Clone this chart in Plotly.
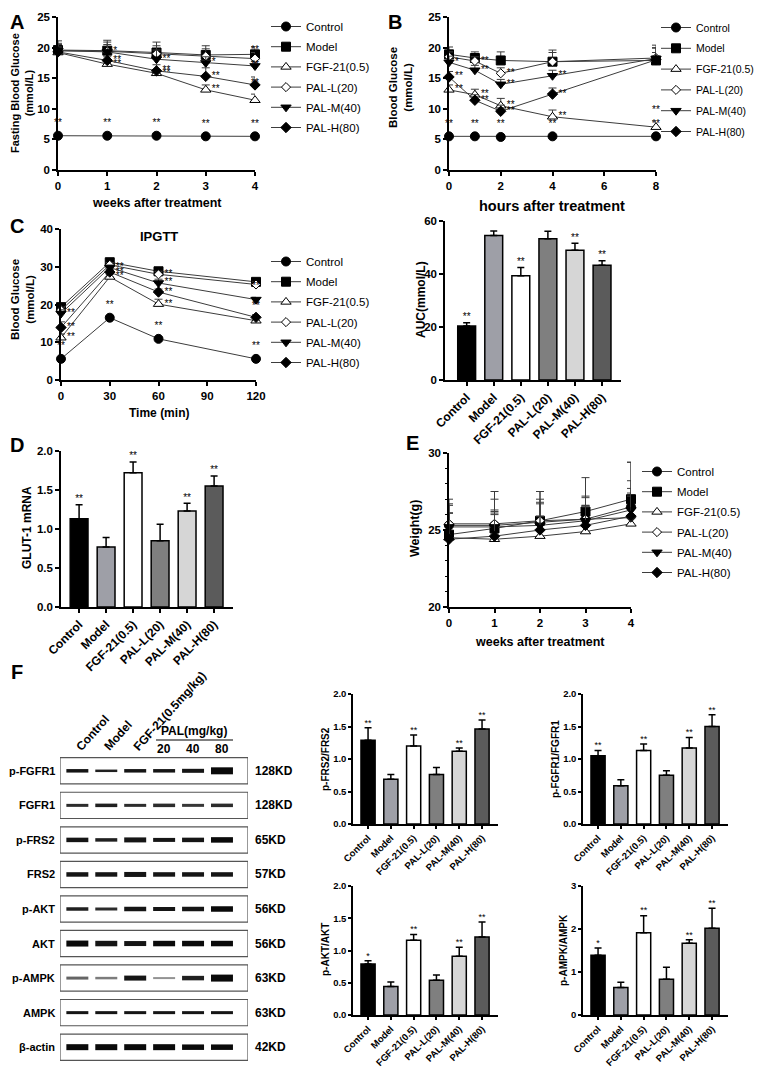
import plotly.graph_objects as go

W, H = 768, 1069
OFF = 8  # the page puts the figure 8 px in from the top-left corner
FW, FH = W - OFF, H - OFF
FONT = "Arial, Liberation Sans, sans-serif"

groups = ["Control", "Model", "FGF-21(0.5)", "PAL-L(20)", "PAL-M(40)", "PAL-H(80)"]

# A: fasting blood glucose over weeks
weeks = [0, 1, 2, 3, 4]
fbg_mean = [
    [5.6, 5.6, 5.6, 5.5, 5.5],
    [19.6, 19.5, 19.2, 18.8, 18.9],
    [19.2, 17.3, 15.8, 13.1, 11.4],
    [19.5, 19.4, 19.0, 18.6, 18.2],
    [19.5, 19.3, 18.1, 17.5, 17.0],
    [19.3, 17.9, 16.2, 15.3, 13.9],
]
fbg_err = [
    [0.2, 0.2, 0.2, 0.2, 0.2],
    [1.5, 1.7, 1.7, 1.5, 1.2],
    [1.3, 0.5, 0.6, 0.8, 1.0],
    [1.2, 1.5, 1.3, 1.2, 1.0],
    [1.0, 1.2, 1.5, 1.0, 0.8],
    [0.8, 0.6, 1.0, 1.4, 1.3],
]
fbg_sig = [
    ["**", "**", "**", "**", "**"],
    ["", "", "", "", ""],
    ["", "**", "**", "**", "**"],
    ["", "", "", "", ""],
    ["", "*", "**", "*", "**"],
    ["", "**", "**", "**", "**"],
]

# B: blood glucose over hours
hours = [0, 1, 2, 4, 8]
bg_mean = [
    [5.5, 5.5, 5.4, 5.5, 5.5],
    [18.9, 18.3, 17.9, 17.7, 17.9],
    [13.1, 12.3, 10.5, 8.7, 7.0],
    [18.5, 17.8, 15.8, 17.7, 18.3],
    [17.6, 16.3, 14.0, 15.4, 18.2],
    [15.2, 11.4, 9.6, 12.4, 18.0],
]
bg_err = [
    [0.2, 0.2, 0.2, 0.2, 0.2],
    [1.2, 1.0, 1.4, 1.9, 2.5],
    [0.8, 0.9, 1.2, 1.1, 1.0],
    [0.8, 0.7, 0.9, 1.5, 1.6],
    [1.0, 0.8, 0.8, 0.9, 1.8],
    [0.9, 0.9, 1.0, 1.0, 1.2],
]
bg_sig = [
    ["**", "**", "**", "**", "**"],
    ["", "", "", "", ""],
    ["**", "**", "**", "**", "**"],
    ["", "**", "**", "", ""],
    ["*", "**", "**", "**", ""],
    ["**", "**", "**", "**", ""],
]

# C: IPGTT
minutes = [0, 30, 60, 120]
ipgtt_mean = [
    [5.6, 16.5, 10.9, 5.6],
    [19.3, 31.2, 28.8, 26.0],
    [11.2, 27.3, 20.1, 15.7],
    [18.5, 30.5, 28.0, 25.3],
    [17.6, 29.8, 25.7, 21.3],
    [13.9, 28.6, 23.3, 16.6],
]
ipgtt_err = [
    [0.3, 0.4, 0.4, 0.3],
    [0.8, 0.6, 0.8, 0.7],
    [1.0, 0.7, 1.3, 0.8],
    [0.8, 0.6, 0.8, 0.7],
    [1.0, 0.6, 1.0, 0.6],
    [1.5, 0.7, 0.8, 0.7],
]
ipgtt_sig = [
    ["**", "**", "**", "**"],
    ["", "", "", ""],
    ["**", "**", "**", "**"],
    ["", "", "**", ""],
    ["**", "**", "**", "**"],
    ["**", "**", "**", "**"],
]

# AUC
auc_mean = [20.4, 54.5, 39.3, 53.3, 49.0, 43.3]
auc_err = [1.2, 1.7, 3.2, 2.8, 2.6, 1.7]
auc_sig = ["**", "", "**", "", "**", "**"]

# D: GLUT-1 mRNA
glut_mean = [1.13, 0.77, 1.72, 0.85, 1.23, 1.55]
glut_err = [0.18, 0.12, 0.14, 0.21, 0.10, 0.13]
glut_sig = ["**", "", "**", "", "**", "**"]

# E: body weight
weight_mean = [
    [25.3, 25.3, 25.5, 25.7, 26.5],
    [24.7, 25.1, 25.6, 26.2, 27.0],
    [24.5, 24.4, 24.6, 24.9, 25.4],
    [25.4, 25.4, 25.6, 25.7, 25.8],
    [25.2, 25.2, 25.3, 25.6, 26.3],
    [24.4, 24.6, 25.0, 25.3, 25.9],
]
weight_err = [
    [1.7, 2.2, 2.0, 2.7, 2.9],
    [1.9, 1.9, 1.9, 1.0, 2.4],
    [1.6, 1.6, 1.3, 1.7, 1.8],
    [0.7, 0.9, 1.2, 1.4, 2.4],
    [1.5, 1.0, 1.7, 0.9, 1.4],
    [1.7, 1.5, 1.7, 1.3, 1.5],
]

# F: western blot quantification
pfrs2_mean = [1.29, 0.69, 1.20, 0.76, 1.12, 1.46]
pfrs2_err = [0.19, 0.07, 0.17, 0.11, 0.05, 0.14]
pfgfr1_mean = [1.05, 0.59, 1.13, 0.75, 1.17, 1.50]
pfgfr1_err = [0.08, 0.09, 0.10, 0.07, 0.16, 0.18]
pakt_mean = [0.79, 0.44, 1.16, 0.54, 0.91, 1.21]
pakt_err = [0.05, 0.07, 0.09, 0.08, 0.14, 0.23]
pampk_mean = [1.39, 0.64, 1.91, 0.83, 1.67, 2.02]
pampk_err = [0.17, 0.12, 0.40, 0.28, 0.08, 0.46]
pfrs2_sig = ["**", "", "**", "", "**", "**"]
pfgfr1_sig = ["**", "", "**", "", "**", "**"]
pakt_sig = ["*", "", "**", "", "**", "**"]
pampk_sig = ["*", "", "**", "", "**", "**"]

# F: blot bands
blot_proteins = ["p-FGFR1", "FGFR1", "p-FRS2", "FRS2", "p-AKT", "AKT", "p-AMPK", "AMPK", "β-actin"]
blot_kd = ["128KD", "128KD", "65KD", "57KD", "56KD", "56KD", "63KD", "63KD", "42KD"]
blot_band = [
    [3.5, 2.5, 3.5, 3.5, 4.0, 7.0],
    [3.0, 3.5, 3.0, 3.5, 3.0, 3.5],
    [4.5, 3.5, 5.0, 4.0, 4.5, 5.5],
    [4.5, 4.5, 5.0, 4.5, 4.5, 4.5],
    [3.5, 3.0, 4.5, 4.0, 4.5, 5.5],
    [6.0, 5.5, 5.0, 5.5, 5.5, 5.5],
    [3.0, 2.5, 5.0, 2.0, 4.5, 7.0],
    [3.0, 3.0, 3.0, 3.0, 3.0, 3.0],
    [6.0, 6.0, 6.0, 6.0, 5.5, 5.5],
]
blot_tone = [
    [0.95, 0.9, 0.95, 0.95, 0.95, 1.0],
    [0.85, 0.9, 0.85, 0.85, 0.8, 0.85],
    [0.95, 0.9, 0.95, 0.95, 0.95, 1.0],
    [0.95, 0.95, 0.95, 0.95, 0.95, 0.95],
    [0.9, 0.85, 0.95, 0.95, 0.95, 1.0],
    [1.0, 0.95, 0.95, 1.0, 1.0, 1.0],
    [0.6, 0.5, 0.95, 0.4, 0.9, 1.0],
    [0.95, 0.95, 0.95, 0.95, 0.95, 0.95],
    [1.0, 1.0, 1.0, 1.0, 1.0, 1.0],
]
blot_lanes = ["Control", "Model", "FGF-21(0.5mg/kg)", "20", "40", "80"]

BAR_COLORS = ["#000000", "#9e9fa7", "#ffffff", "#7f7f7f", "#d6d6d6", "#5b5b5b"]
SYMBOLS = ["circle", "square", "triangle-up", "diamond", "triangle-down", "diamond"]
FILLS = ["black", "black", "white", "white", "black", "black"]
SIZES = [9, 9, 9, 7, 9, 8]
LINE_C = "#3c3c3c"


def fx(x):
    return (x - OFF) / FW


def fy(y):
    return 1 - (y - OFF) / FH


def dx(a, b):
    return [fx(a), fx(b)]


def dy(top, bottom):
    return [fy(bottom), fy(top)]


def tick_font(size=11.5):
    return dict(family=FONT, size=size, color="black", weight="bold")


def axis(domain, anchor, **kw):
    d = dict(domain=domain, anchor=anchor, showline=True, linewidth=1.5,
             linecolor="black", ticks="outside", ticklen=4, tickwidth=1.5,
             tickcolor="black", showgrid=False, zeroline=False,
             tickfont=tick_font(), fixedrange=True, automargin=False)
    d.update(kw)
    return d


fig = go.Figure()
layout = {}
annotations = []
shapes = []


def ann(x, y, text, size=12, bold=True, **kw):
    a = dict(x=fx(x), y=fy(y), xref="paper", yref="paper", text=text,
             xanchor="center", yanchor="middle", showarrow=False,
             font=dict(family=FONT, size=size, color="black",
                       weight="bold" if bold else "normal"))
    a.update(kw)
    annotations.append(a)


def line_panel(n, xs, means, errs, sigs, legend):
    for i, g in enumerate(groups):
        fig.add_trace(go.Scatter(
            x=xs, y=means[i], mode="lines+markers", name=g,
            xaxis=f"x{n}", yaxis=f"y{n}", legend=legend, cliponaxis=False,
            legendgroup=f"{legend}-{i}",
            line=dict(color=LINE_C, width=1),
            marker=dict(symbol=SYMBOLS[i], size=SIZES[i], color=FILLS[i],
                        line=dict(color="black", width=1)),
            error_y=dict(type="data", symmetric=False, array=errs[i],
                         arrayminus=[0] * len(xs), color=LINE_C,
                         thickness=1, width=4),
        ))
        if sigs is None:
            continue
        top_x, top_y, top_t, r_x, r_y, r_t = [], [], [], [], [], []
        for j, s in enumerate(sigs[i]):
            if not s:
                continue
            if i == 0 or j == len(xs) - 1:
                top_x.append(xs[j]); top_y.append(means[i][j] + errs[i][j]); top_t.append(s)
            else:
                r_x.append(xs[j]); r_y.append(means[i][j]); r_t.append(s)
        for px_, py_, pt, pos in ((top_x, top_y, top_t, "top center"),
                                  (r_x, r_y, r_t, "middle right")):
            if px_:
                fig.add_trace(go.Scatter(
                    x=px_, y=py_, text=pt, mode="markers+text",
                    textposition=pos, showlegend=False, cliponaxis=False,
                    marker=dict(size=8, opacity=0), hoverinfo="skip",
                    textfont=dict(family=FONT, size=10, color="black"),
                    xaxis=f"x{n}", yaxis=f"y{n}"))


def bar_panel(n, means, errs, sigs, width, sig_size=10):
    fig.add_trace(go.Bar(
        x=groups, y=means, width=width, showlegend=False,
        marker=dict(color=BAR_COLORS, line=dict(color="black", width=1.5)),
        error_y=dict(type="data", symmetric=False, array=errs,
                     arrayminus=[0] * len(means), color="black",
                     thickness=1.5, width=3.5),
        xaxis=f"x{n}", yaxis=f"y{n}"))
    fig.add_trace(go.Scatter(
        x=groups, y=[m + e for m, e in zip(means, errs)], text=sigs,
        mode="text", textposition="top center", showlegend=False,
        cliponaxis=False, hoverinfo="skip",
        textfont=dict(family=FONT, size=sig_size, color="black"),
        xaxis=f"x{n}", yaxis=f"y{n}"))


def legend_at(x, y, size=11.5, gap=1.2):
    return dict(x=fx(x), y=fy(y), xanchor="left", yanchor="top",
                bgcolor="rgba(0,0,0,0)", itemwidth=30, traceorder="grouped",
                tracegroupgap=gap,
                font=dict(family=FONT, size=size, color="black"))


# A
line_panel(1, weeks, fbg_mean, fbg_err, fbg_sig, "legend")
layout["xaxis"] = axis(dx(58, 255), "y", range=[0, 4], dtick=1)
layout["yaxis"] = axis(dy(17, 170), "x", range=[0, 25], dtick=5)
layout["legend"] = legend_at(266, 12)
ann(157, 203, "weeks after treatment", 12.5)
ann(22, 93, "Fasting Blood Glucose<br>(mmol/L)", 11, textangle=-90)
ann(17, 22, "A", 20)

# B
line_panel(2, hours, bg_mean, bg_err, bg_sig, "legend2")
layout["xaxis2"] = axis(dx(449, 656), "y2", range=[0, 8], dtick=2)
layout["yaxis2"] = axis(dy(17, 170), "x2", range=[0, 25], dtick=5)
layout["legend2"] = legend_at(656, 13, size=10.5, gap=1.8)
ann(552, 206, "hours after treatment", 14.5)
ann(401, 88, "Blood Glucose<br>(mmol/L)", 11.5, textangle=-90)
ann(395, 22, "B", 20)

# C
line_panel(3, minutes, ipgtt_mean, ipgtt_err, ipgtt_sig, "legend3")
layout["xaxis3"] = axis(dx(61, 256), "y3", range=[0, 120], dtick=30)
layout["yaxis3"] = axis(dy(229, 380), "x3", range=[0, 40], dtick=10)
layout["legend3"] = legend_at(266, 247)
ann(159, 413, "Time (min)", 12)
ann(159, 237, "IPGTT", 13)
ann(22, 300, "Blood Glucose<br>(mmol/L)", 11.5, textangle=-90)
ann(17, 226, "C", 20)

# AUC
bar_panel(4, auc_mean, auc_err, auc_sig, 0.66)
layout["xaxis4"] = axis(dx(445, 621), "y4", range=[-0.8, 5.7], tickangle=-45,
                        tickfont=tick_font(12))
layout["yaxis4"] = axis(dy(221, 380), "x4", range=[0, 60], dtick=20)
ann(421, 300, "AUC(mmol/L)", 12, textangle=-90)

# D
bar_panel(5, glut_mean, glut_err, glut_sig, 0.66)
layout["xaxis5"] = axis(dx(61, 233), "y5", range=[-0.67, 5.7], tickangle=-45,
                        tickfont=tick_font(12))
layout["yaxis5"] = axis(dy(451, 607), "x5", range=[0, 2], dtick=0.5,
                        tickformat=".1f")
ann(27, 528, "GLUT-1 mRNA", 12, textangle=-90)
ann(17, 445, "D", 20)

# E
line_panel(6, weeks, weight_mean, weight_err, None, "legend4")
layout["xaxis6"] = axis(dx(449, 631), "y6", range=[0, 4], dtick=1)
layout["yaxis6"] = axis(dy(453, 607), "x6", range=[20, 30], dtick=5,
                        minor=dict(dtick=1, ticks="outside", ticklen=2.5,
                                   tickwidth=1, tickcolor="black"))
layout["legend4"] = legend_at(637, 457)
ann(540, 642, "weeks after treatment", 12.5)
ann(415, 529, "Weight(g)", 12.5, textangle=-90)
ann(412, 443, "E", 20)

# F blot
lane_lo, lane_hi = -0.6, 5.9
for r, prot in enumerate(blot_proteins):
    shapes.append(dict(type="rect", xref="x7", yref="y7", x0=lane_lo, x1=lane_hi,
                       y0=r - 0.38, y1=r + 0.38, line=dict(color="#555", width=1.2),
                       fillcolor="rgba(0,0,0,0)"))
    for k in range(len(blot_lanes)):
        g = int(255 * (1 - blot_tone[r][k]) * 0.9 + 10)
        fig.add_trace(go.Scatter(
            x=[k - 0.38, k + 0.38], y=[r, r], mode="lines", showlegend=False,
            hoverinfo="skip", line=dict(color=f"rgb({g},{g},{g})",
                                        width=blot_band[r][k]),
            xaxis="x7", yaxis="y7"))
    annotations.append(dict(x=fx(57), y=r, xref="paper", yref="y7", text=prot,
                            xanchor="right", yanchor="middle", showarrow=False,
                            font=dict(family=FONT, size=11, color="black",
                                      weight="bold")))
    annotations.append(dict(x=fx(253), y=r, xref="paper", yref="y7",
                            text=blot_kd[r], xanchor="left", yanchor="middle",
                            showarrow=False,
                            font=dict(family=FONT, size=12, color="black",
                                      weight="bold")))
layout["xaxis7"] = dict(domain=dx(60, 248), anchor="y7", range=[lane_lo, lane_hi],
                        visible=False, fixedrange=True)
layout["yaxis7"] = dict(domain=dy(757, 1061), anchor="x7", range=[8.4, -0.4],
                        visible=False, fixedrange=True)
for k in range(3):
    annotations.append(dict(x=k - 0.25, y=fy(756), xref="x7", yref="paper",
                            text=blot_lanes[k], textangle=-48, xanchor="left",
                            yanchor="bottom", showarrow=False,
                            font=dict(family=FONT, size=12, color="black",
                                      weight="bold")))
for k in range(3, 6):
    annotations.append(dict(x=k, y=fy(749), xref="x7", yref="paper",
                            text=blot_lanes[k], xanchor="center", yanchor="middle",
                            showarrow=False,
                            font=dict(family=FONT, size=12, color="black",
                                      weight="bold")))
ann(194, 731, "PAL(mg/kg)", 12)
shapes.append(dict(type="line", xref="paper", yref="paper", x0=fx(156), x1=fx(233),
                   y0=fy(740), y1=fy(740), line=dict(color="black", width=1.2)))
ann(17, 672, "F", 20)

# F bars
fpanels = [
    (8, pfrs2_mean, pfrs2_err, pfrs2_sig, (353, 498), (694, 824), [0, 2], 0.5, "p-FRS2/FRS2", 325, 759),
    (9, pfgfr1_mean, pfgfr1_err, pfgfr1_sig, (583, 728), (694, 824), [0, 2], 0.5, "p-FGFR1/FGFR1", 555, 759),
    (10, pakt_mean, pakt_err, pakt_sig, (353, 498), (886, 1015), [0, 2], 0.5, "p-AKT/AKT", 325, 950),
    (11, pampk_mean, pampk_err, pampk_sig, (583, 728), (886, 1015), [0, 3], 1, "p-AMPK/AMPK", 563, 950),
]
for n, m, e, s, xd, yd, yr, dt, title, tx, ty in fpanels:
    bar_panel(n, m, e, s, 0.62, sig_size=9)
    layout[f"xaxis{n}"] = axis(dx(*xd), f"y{n}", range=[-0.66, 5.7], tickangle=-45,
                               tickfont=tick_font(9.5), ticklen=3)
    layout[f"yaxis{n}"] = axis(dy(*yd), f"x{n}", range=yr, dtick=dt,
                               tickformat=".1f" if dt < 1 else "d",
                               tickfont=tick_font(9.5), ticklen=3)
    ann(tx, ty, title, 10, textangle=-90)

fig.update_layout(
    width=FW, height=FH,
    margin=dict(l=0, r=0, t=0, b=0, pad=0, autoexpand=False),
    paper_bgcolor="white", plot_bgcolor="white",
    font=dict(family=FONT, color="black"),
    bargap=0.3, annotations=annotations, shapes=shapes,
    **layout
)

fig.write_html("out.html")
